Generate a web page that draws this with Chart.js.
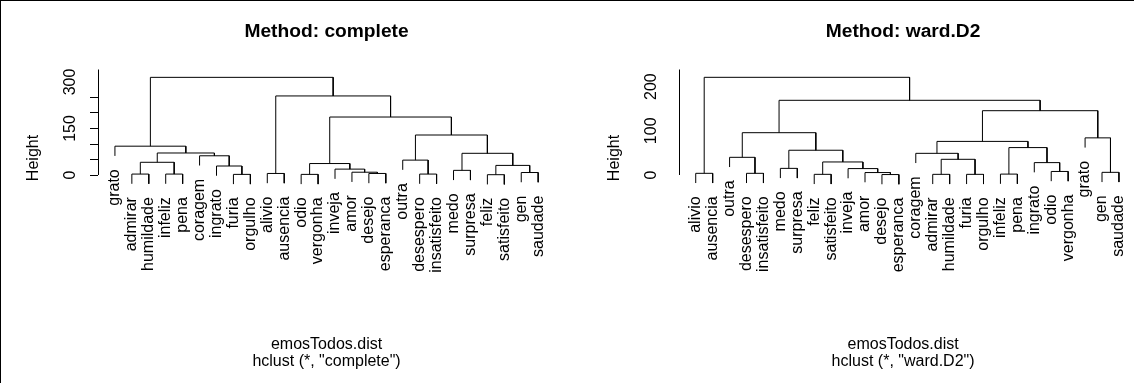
<!DOCTYPE html>
<html><head><meta charset="utf-8">
<script src="https://cdn.jsdelivr.net/npm/chart.js@4.4.1/dist/chart.umd.min.js"></script>
<style>
html,body{margin:0;padding:0;background:#fff;}
#wrap{position:relative;width:1134px;height:383px;overflow:hidden;display:flex;}
#wrap canvas{display:block;}
#frame{position:absolute;left:0;top:0;width:1134px;height:383px;box-sizing:border-box;border-top:1px solid #000;border-left:1px solid #000;pointer-events:none;}
</style></head><body>
<div id="wrap"><canvas id="c1" width="567" height="383"></canvas><canvas id="c2" width="567" height="383"></canvas><div id="frame"></div></div>
<script>
// ---- Data: complete linkage ----
const completeLeaves = ['grato','admirar','humildade','infeliz','pena','coragem','ingrato','furia','orgulho','alivio','ausencia','odio','vergonha','inveja','amor','desejo','esperanca','outra','desespero','insatisfeito','medo','surpresa','feliz','satisfeito','gen','saudade'];
// R-style merge: negative = leaf (1-based position), positive = earlier merge step
const completeMergeA = [-23, -2, -4, -8, -12, -19, -16, -10, -25, -15, -21, -14, -7, 1, 5, 2, -18, -6, 11, 16, -1, 17, 15, 8, 21];
const completeMergeB = [-24, -3, -5, -9, -13, -20, -17, -11, -26, 7, -22, 10, 4, 9, 12, 3, 6, 13, 14, 18, 20, 19, 22, 23, 24];
const completeHeights = [1, 3, 3, 2, 2, 3, 5, 5, 8, 9, 15, 19, 29, 31, 37, 41, 48, 62, 70, 71, 93, 129, 187, 255, 315];
const completeTickLabels = [0, 150, 300];

// ---- Data: ward.D2 linkage ----
const wardLeaves = ['alivio','ausencia','outra','desespero','insatisfeito','medo','surpresa','feliz','satisfeito','inveja','amor','desejo','esperanca','coragem','admirar','humildade','furia','orgulho','infeliz','pena','ingrato','odio','vergonha','grato','gen','saudade'];
const wardMergeA = [-8, -12, -15, -17, -19, -4, -1, -25, -22, -11, -10, -6, -21, 1, 3, -3, -14, 12, 5, 17, -24, 16, 20, 22, 7];
const wardMergeB = [-9, -13, -16, -18, -20, -5, -2, -26, -23, 2, 10, -7, 9, 11, 4, 6, 15, 14, 13, 19, 8, 18, 21, 23, 24];
const wardHeights = [1.5, 1, 1.5, 1.5, 2, 3.8, 3.8, 6, 8, 5.5, 14.5, 15, 28, 29.5, 35.5, 40, 49, 56, 62, 76, 84, 95.7, 145.5, 169, 221];
const wardTickLabels = [0, 100, 200];

const FONT = "'Liberation Sans', Arial, Helvetica, sans-serif";

function buildTree(leaves, mA, mB, heights) {
  const hang = 0.1 * (Math.max(...heights) - Math.min(...heights));
  const pos = [];
  const leafBottom = new Array(leaves.length);
  const segments = [];
  const child = (c, h) => {
    if (c < 0) { const i = -c - 1; leafBottom[i] = h - hang; return {x: i + 1, y: h - hang}; }
    return {x: pos[c - 1], y: heights[c - 1]};
  };
  for (let k = 0; k < mA.length; k++) {
    const h = heights[k];
    const a = child(mA[k], h), b = child(mB[k], h);
    pos[k] = (a.x + b.x) / 2;
    segments.push([{x: a.x, y: a.y}, {x: a.x, y: h}, {x: b.x, y: h}, {x: b.x, y: b.y}]);
  }
  return {segments, leafBottom};
}

function makeChart(canvasId, cfg) {
  const tree = buildTree(cfg.leaves, cfg.mA, cfg.mB, cfg.heights);
  const datasets = tree.segments.map(s => ({
    data: s, showLine: true, borderColor: '#000', borderWidth: 1, pointRadius: 0, pointHoverRadius: 0, fill: false, tension: 0
  }));
  const dendroPlugin = {
    id: 'dendro_' + canvasId,
    afterDraw(chart) {
      const ctx = chart.ctx, xs = chart.scales.x, ys = chart.scales.y;
      const ca = chart.chartArea;
      ctx.save();
      ctx.strokeStyle = '#000'; ctx.lineWidth = 1;
      const ax = Math.round(ca.left) + 0.5;
      ctx.beginPath();
      ctx.moveTo(ax, ys.getPixelForValue(0));
      ctx.lineTo(ax, ca.top);
      ctx.stroke();
      ctx.fillStyle = '#000';
      ctx.font = cfg.tickFont + 'px ' + FONT;
      ctx.textAlign = 'center'; ctx.textBaseline = 'middle';
      cfg.tickLabels.forEach(v => {
        ctx.save();
        ctx.translate(ca.left - 27, ys.getPixelForValue(v));
        ctx.rotate(-Math.PI / 2);
        ctx.fillText(String(v), 0, 0);
        ctx.restore();
      });
      ctx.font = cfg.leafFont + 'px ' + FONT;
      ctx.textAlign = 'right'; ctx.textBaseline = 'middle';
      const mWidth = ctx.measureText('m').width;
      cfg.leaves.forEach((lab, i) => {
        ctx.save();
        ctx.translate(xs.getPixelForValue(i + 1), ys.getPixelForValue(tree.leafBottom[i]) + mWidth);
        ctx.rotate(-Math.PI / 2);
        ctx.fillText(lab, 0, 0);
        ctx.restore();
      });
      ctx.restore();
    }
  };
  return new Chart(document.getElementById(canvasId), {
    type: 'scatter',
    data: {datasets},
    options: {
      responsive: false, animation: false, devicePixelRatio: 1,
      events: [],
      layout: {padding: {left: 0, right: cfg.padRight, top: 0, bottom: 0}},
      plugins: {
        legend: {display: false}, tooltip: {enabled: false},
        title: {display: true, text: cfg.title, fullSize: false, color: '#000',
          font: {family: FONT, size: 19.2, weight: 'bold', lineHeight: 1.2}, padding: {top: 20.5, bottom: 25.96}},
        subtitle: {display: true, position: 'bottom', fullSize: false, text: cfg.sub, color: '#000',
          font: {family: FONT, size: 16, weight: 'normal', lineHeight: '17px'}, padding: {top: 90, bottom: 12.5}}
      },
      scales: {
        x: {type: 'linear', display: false, min: 0, max: cfg.xMax},
        y: {type: 'linear', display: true, min: cfg.yMin, max: cfg.yMax,
          afterFit(scale) { scale.width = cfg.axisX; },
          afterBuildTicks(scale) { scale.ticks = scale.ticks.filter(t => t.value >= 0 && t.value % 50 === 0); },
          ticks: {display: false, stepSize: 50},
          border: {display: false},
          grid: {drawOnChartArea: false, drawTicks: true, tickLength: 8, color: '#000', lineWidth: 1},
          title: {display: true, text: 'Height', color: '#000', font: {family: FONT, size: 16, lineHeight: 1.2}, padding: {top: cfg.axisX - 64 - 9.6, bottom: 0}}
        }
      }
    },
    plugins: [dendroPlugin]
  });
}

makeChart('c1', {
  leaves: completeLeaves, mA: completeMergeA, mB: completeMergeB, heights: completeHeights,
  tickLabels: completeTickLabels, title: 'Method: complete', sub: ['emosTodos.dist', 'hclust (*, "complete")'],
  axisX: 98, xMax: 27, padRight: 11.9, yMin: -230.6, yMax: 340.3, tickFont: 16, leafFont: 16
});
makeChart('c2', {
  leaves: wardLeaves, mA: wardMergeA, mB: wardMergeB, heights: wardHeights,
  tickLabels: wardTickLabels, title: 'Method: ward.D2', sub: ['emosTodos.dist', 'hclust (*, "ward.D2")'],
  axisX: 111.8, xMax: 26.5, padRight: 6.6, yMin: -161.8, yMax: 238.7, tickFont: 16, leafFont: 16
});
</script>
</body></html>
